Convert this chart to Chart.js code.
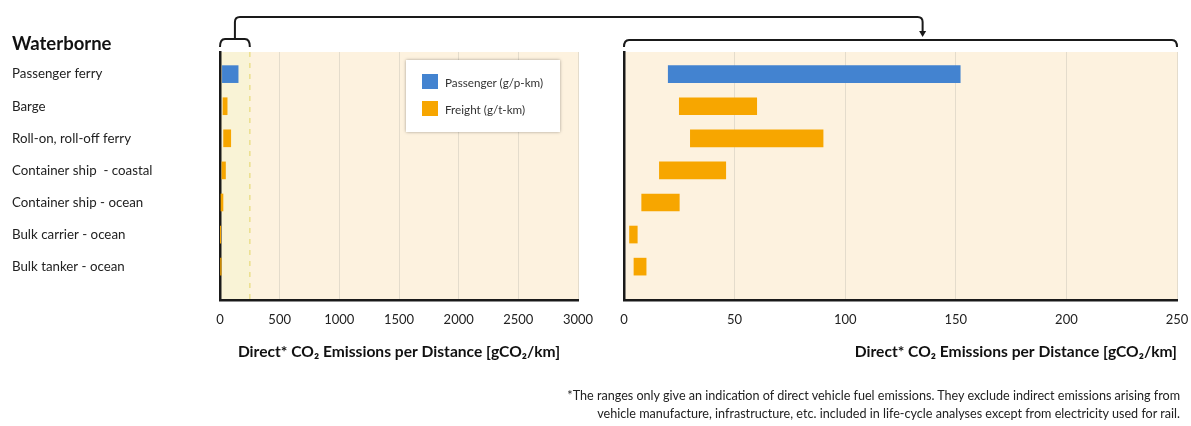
<!DOCTYPE html>
<html>
<head>
<meta charset="utf-8">
<script src="https://cdn.jsdelivr.net/npm/chart.js@4.4.1/dist/chart.umd.min.js"></script>
<style>
  body { margin: 0; background: #fff; }
  #wrap { position: relative; width: 1191px; height: 426px; font-family: Lato, sans-serif; color: #222; overflow: hidden; }
  #leftChart { position: absolute; left: 0; top: 0; }
  #rightChart { position: absolute; left: 600px; top: 0; }
  #overlay { position: absolute; left: 0; top: 0; pointer-events: none; }
  #heading { position: absolute; left: 12px; top: 32px; font-weight: bold; font-size: 18.5px; color: #111; }
  #legend { position: absolute; left: 406px; top: 60px; width: 154px; height: 72px; background: #fff;
            box-shadow: 0 0 3px rgba(0,0,0,0.35); font-size: 11.7px; color: #333; }
  #legend .item { position: absolute; left: 16px; display: flex; align-items: center; }
  #legend .sw { width: 16px; height: 15px; margin-right: 7px; }
  #note { position: absolute; right: 11px; top: 387px; font-size: 12.6px; line-height: 18px; text-align: right; color: #222; }
</style>
</head>
<body>
<div id="wrap">
  <canvas id="leftChart" width="600" height="426"></canvas>
  <canvas id="rightChart" width="591" height="426"></canvas>
  <svg id="overlay" width="1191" height="426"></svg>
  <div id="heading">Waterborne</div>
  <div id="legend">
    <div class="item" style="top:14px"><span class="sw" style="background:#4383d0"></span>Passenger (g/p-km)</div>
    <div class="item" style="top:41px"><span class="sw" style="background:#f7a600"></span>Freight (g/t-km)</div>
  </div>
  <div id="note">*The ranges only give an indication of direct vehicle fuel emissions. They exclude indirect emissions arising from<br>vehicle manufacture, infrastructure, etc. included in life-cycle analyses except from electricity used for rail.</div>
</div>
<script>
// categories, top to bottom
const categories = [
  "Passenger ferry",
  "Barge",
  "Roll-on, roll-off ferry",
  "Container ship  - coastal",
  "Container ship - ocean",
  "Bulk carrier - ocean",
  "Bulk tanker - ocean",
];
// ranges [min, max] in gCO2/km, null where the series has no bar
const passengerRange = [[20, 152], null, null, null, null, null, null];
const freightRange = [null, [25, 60], [30, 90], [16, 46], [8, 25], [2.5, 6], [4.5, 10]];

const leftMax = 3000, leftStep = 500;
const rightMax = 250, rightStep = 50;
const zoomLimit = 250; // part of the left axis that is blown up on the right

const axisTitle = "Direct* CO\u2082 Emissions per Distance [gCO\u2082/km]";
const blue = "#4383d0";
const orange = "#f7a600";

function toPoints(ranges) {
  return ranges.map((r, i) => ({ x: r, y: i })).filter((d) => d.x);
}

// cream plot background, plus the zoomed band on the left chart
const bgPlugin = {
  id: "bg",
  beforeDraw(chart, args, opts) {
    const { ctx, chartArea: a, scales } = chart;
    ctx.save();
    ctx.fillStyle = "#fdf2df";
    ctx.fillRect(a.left, a.top, a.width, a.height);
    if (opts.zoomTo) {
      const xe = scales.x.getPixelForValue(opts.zoomTo);
      ctx.fillStyle = "#f9f3d6";
      ctx.fillRect(a.left, a.top, xe - a.left, a.height);
      ctx.strokeStyle = "#ebdf8c";
      ctx.lineWidth = 1.5;
      ctx.setLineDash([5, 6]);
      ctx.beginPath();
      ctx.moveTo(xe, a.top);
      ctx.lineTo(xe, a.bottom);
      ctx.stroke();
    }
    ctx.restore();
  },
};

function makeChart(id, opts) {
  return new Chart(document.getElementById(id), {
    type: "bar",
    data: {
      datasets: [
        { label: "Passenger (g/p-km)", data: toPoints(passengerRange), backgroundColor: blue },
        { label: "Freight (g/t-km)", data: toPoints(freightRange), backgroundColor: orange },
      ],
    },
    options: {
      responsive: false,
      animation: false,
      indexAxis: "y",
      layout: { padding: opts.padding },
      datasets: { bar: { barThickness: 17, grouped: false } },
      plugins: {
        legend: { display: false },
        tooltip: { enabled: false },
        bg: { zoomTo: opts.zoomTo },
      },
      scales: {
        y: {
          type: "linear",
          reverse: true,
          offset: false,
          min: -0.69,
          max: 7.04,
          afterBuildTicks: (axis) => {
            axis.ticks = categories.map((c, i) => ({ value: i }));
          },
          afterFit: (s) => { s.width = opts.yWidth; },
          grid: { display: false, offset: false },
          border: { color: "#1a1a1a", width: 2.5 },
          ticks: {
            display: opts.showLabels,
            crossAlign: "far",
            padding: 0,
            color: "#222",
            font: { family: "Lato", size: 13.3 },
            callback: (v) => categories[v],
          },
        },
        x: {
          type: "linear",
          min: 0,
          max: opts.max,
          afterFit: (s) => { s.height = 61.4; },
          grid: { color: "#e4dccc", lineWidth: 1, drawTicks: true, tickLength: 12, tickColor: "rgba(0,0,0,0)" },
          border: { color: "#1a1a1a", width: 2.5 },
          ticks: {
            stepSize: opts.step,
            padding: 0,
            color: "#222",
            font: { family: "Lato", size: 13 },
            callback: (v) => String(v),
          },
          title: {
            display: true,
            text: axisTitle,
            align: opts.titleAlign,
            padding: 0,
            color: "#111",
            font: { family: "Lato", size: 15.6, weight: "bold" },
          },
        },
      },
    },
    plugins: [bgPlugin],
  });
}

const leftChart = makeChart("leftChart", {
  padding: { left: 12, right: 22, top: 52, bottom: 64.6 },
  yWidth: 208,
  showLabels: true,
  max: leftMax,
  step: leftStep,
  zoomTo: zoomLimit,
  titleAlign: "center",
});

const rightChart = makeChart("rightChart", {
  padding: { left: 24, right: 14, top: 52, bottom: 64.6 },
  yWidth: 0,
  showLabels: false,
  max: rightMax,
  step: rightStep,
  zoomTo: null,
  titleAlign: "end",
});

// brackets linking the 0-250 band to the right chart
function drawBrackets() {
  const svg = document.getElementById("overlay");
  const rOff = 600;
  const l0 = leftChart.scales.x.getPixelForValue(0);
  const l1 = leftChart.scales.x.getPixelForValue(zoomLimit);
  const lm = leftChart.scales.x.getPixelForValue(zoomLimit / 2);
  const r0 = rOff + rightChart.chartArea.left;
  const r1 = rOff + rightChart.chartArea.right;
  const ra = rOff + rightChart.scales.x.getPixelForValue(135);
  const paths = [
    `M${l0},47 Q${l0},39 ${l0 + 5},39 L${l1 - 5},39 Q${l1},39 ${l1},47`,
    `M${lm},39 L${lm},22 Q${lm},17 ${lm + 5},17 L${ra - 5},17 Q${ra},17 ${ra},22 L${ra},32`,
    `M${r0},47 Q${r0},40 ${r0 + 5},40 L${r1 - 5},40 Q${r1},40 ${r1},47`,
  ];
  let html = paths.map((d) => `<path d="${d}" fill="none" stroke="#1a1a1a" stroke-width="2"/>`).join("");
  html += `<path d="M${ra - 3.5},31 L${ra + 3.5},31 L${ra},37 Z" fill="#1a1a1a"/>`;
  svg.innerHTML = html;
}
drawBrackets();
</script>
</body>
</html>
